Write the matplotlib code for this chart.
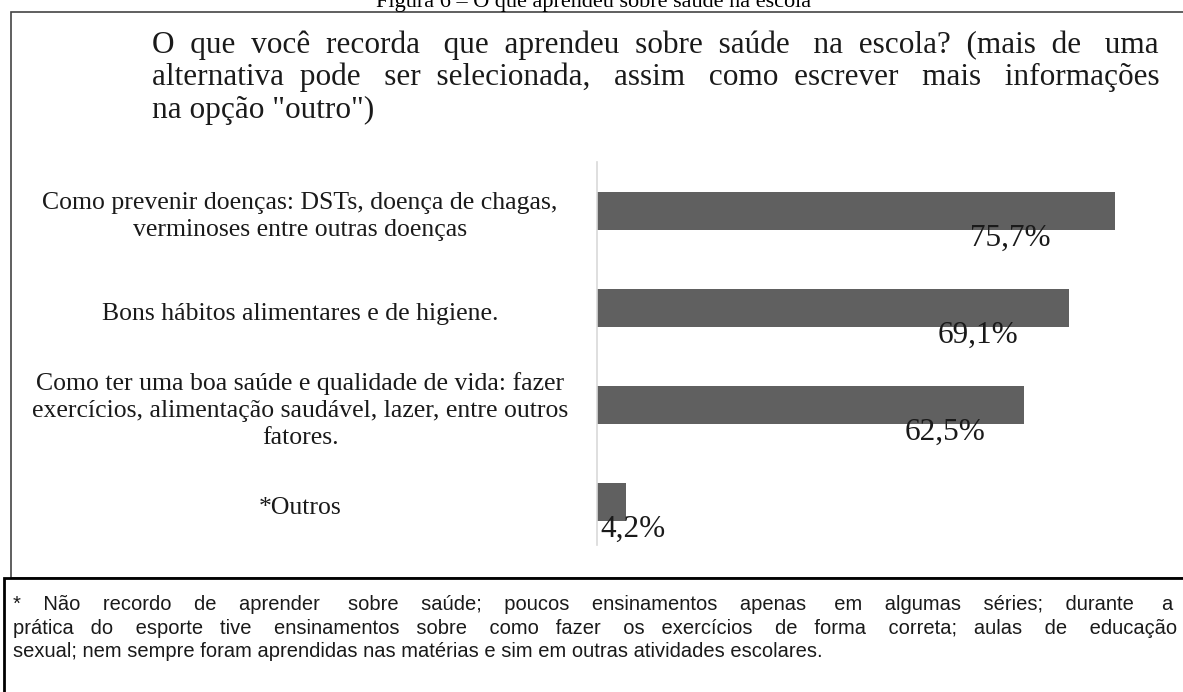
import matplotlib.pyplot as plt
from matplotlib.patches import Rectangle

W, H = 1183, 692

categorias = [
    'Como prevenir doenças: DSTs, doença de chagas,\nverminoses entre outras doenças',
    'Bons hábitos alimentares e de higiene.',
    'Como ter uma boa saúde e qualidade de vida: fazer\nexercícios, alimentação saudável, lazer, entre outros\nfatores.',
    '*Outros',
]
valores = [75.7, 69.1, 62.5, 4.2]
rotulos = ['75,7%', '69,1%', '62,5%', '4,2%']

titulo = 'Figura 6 – O que aprendeu sobre saúde na escola'
pergunta = ['O que você recorda que aprendeu sobre saúde na escola? (mais de uma',
            'alternativa pode ser selecionada, assim como escrever mais informações',
            'na opção "outro")']
nota = ['* Não recordo de aprender sobre saúde; poucos ensinamentos apenas em algumas séries; durante a',
        'prática do esporte tive ensinamentos sobre como fazer os exercícios de forma correta; aulas de educação',
        'sexual; nem sempre foram aprendidas nas matérias e sim em outras atividades escolares.']

serif = 'Liberation Serif'
sans = 'Liberation Sans'


def fx(px):
    return px / W


def fy(py):
    return 1 - py / H


fig = plt.figure(figsize=(W / 100, H / 100), dpi=100)
renderer = fig.canvas.get_renderer()


def largura(s, **kw):
    t = fig.text(0, 0, s, **kw)
    w = t.get_window_extent(renderer).width
    t.remove()
    return w


def escrever(linha, x0, x1, base, justificar, **kw):
    # justifica a linha acrescentando espaços entre as palavras
    if justificar:
        palavras = linha.split(' ')
        g = len(palavras) - 1
        esp = largura('a a', **kw) - largura('aa', **kw)
        n = round((x1 - x0 - largura(linha, **kw)) / esp)
        s = palavras[0]
        for i, p in enumerate(palavras[1:]):
            k = 1 + (i + 1) * n // g - i * n // g
            s += ' ' * k + p
        linha = s
    fig.text(fx(x0), fy(base), linha, ha='left', va='baseline', **kw)


# molduras
fig.patches.append(Rectangle((fx(11), fy(578)), fx(1300), 566 / H, transform=fig.transFigure,
                             fill=False, edgecolor='#444444', linewidth=1.2))
fig.patches.append(Rectangle((fx(4), fy(720)), fx(1300), 142 / H, transform=fig.transFigure,
                             fill=False, edgecolor='black', linewidth=2, zorder=3))

fig.text(fx(594), fy(7), titulo, ha='center', va='baseline', fontsize=16, family=serif)

for k, linha in enumerate(pergunta):
    escrever(linha, 152, 1162, 53 + k * 32.5, k < 2, fontsize=22.5, family=serif,
             color='#1a1a1a')

# barras
ax = fig.add_axes([fx(597), fy(545), 547 / W, 383 / H])
y = range(len(valores))
ax.barh(y, valores, height=0.4, color='#606060')
ax.set_xlim(0, 80)
ax.set_ylim(3.443, -0.505)
for s in ['top', 'right', 'bottom']:
    ax.spines[s].set_visible(False)
ax.spines['left'].set_color('#d9d9d9')
ax.spines['left'].set_linewidth(1.2)
ax.set_xticks([])
ax.set_yticks([])

for i, (v, r, c) in enumerate(zip(valores, rotulos, categorias)):
    xl = v * 0.72 if v > 10 else 0.5
    ax.text(xl, i + 0.28, r, ha='left', va='center', fontsize=22.5, family=serif,
            color='#1a1a1a')
    ax.text(-0.543, i + 0.06, c, transform=ax.get_yaxis_transform(), ha='center',
            va='center', multialignment='center', fontsize=18.5, family=serif,
            color='#1a1a1a', linespacing=1.3)

for k, linha in enumerate(nota):
    escrever(linha, 13, 1175, 610 + k * 23.5, k < 2, fontsize=14.5, family=sans,
             color='#1a1a1a')

fig.savefig('out.png', dpi=100)
